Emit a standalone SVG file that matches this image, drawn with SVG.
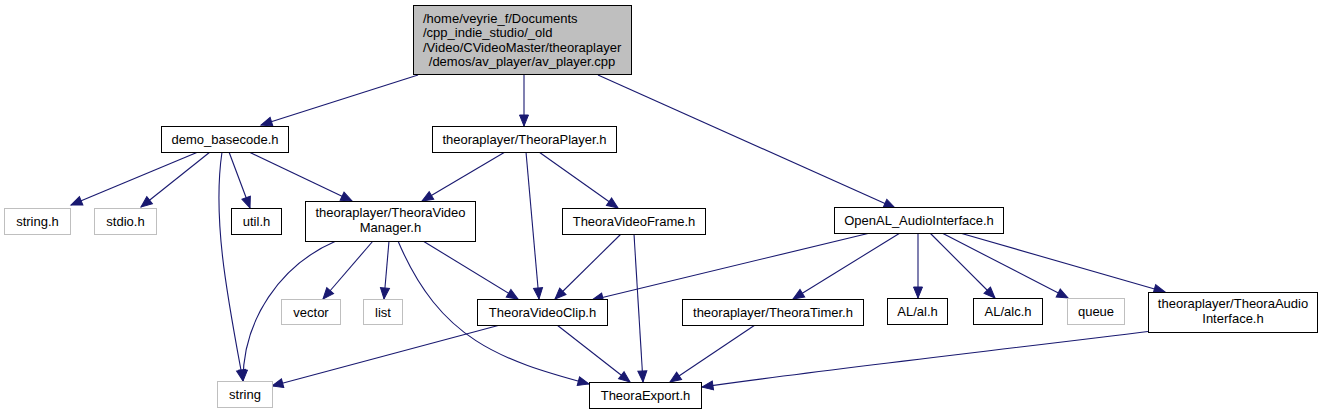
<svg xmlns="http://www.w3.org/2000/svg" width="1328" height="413" viewBox="0 0 1328 413">
<style>
.b{fill:#fff;stroke:#000;stroke-width:1}
.g{fill:#fff;stroke:#bfbfbf;stroke-width:1}
.r{fill:#bfbfbf;stroke:#000;stroke-width:1}
text{font-family:"Liberation Sans",Arial,sans-serif;font-size:13px;fill:#000}
.c{text-anchor:middle}
</style>
<defs>
<marker id="a" markerUnits="userSpaceOnUse" markerWidth="14" markerHeight="12" refX="11" refY="4.5" orient="auto" overflow="visible">
<path d="M0,0 L11,4.5 L0,9 z" fill="#191970" stroke="#191970" stroke-width="1"/>
</marker>
</defs>
<g id="edges" fill="none" stroke="#191970" stroke-width="1.1" marker-end="url(#a)">
<path d="M418,75 L261,125"/>
<path d="M524,75 L524,126"/>
<path d="M598,75 L895,208"/>
<path d="M198,152 L71,205"/>
<path d="M210,152 L141,207"/>
<path d="M222,152 C212,220 228,300 243,381"/>
<path d="M229,152 L250,208"/>
<path d="M249,152 L352,201"/>
<path d="M505,152 L422,201"/>
<path d="M526,152 L539,299"/>
<path d="M539,152 L618,208"/>
<path d="M336,241 C280,265 243,320 243,381"/>
<path d="M373,241 L323,299"/>
<path d="M389,241 L384,299"/>
<path d="M398,241 C440,340 500,360 589,384"/>
<path d="M423,241 L518,299"/>
<path d="M621,234 L555,299"/>
<path d="M634,234 L643,382"/>
<path d="M870,233 L592,300"/>
<path d="M900,233 L793,299"/>
<path d="M918,233 L918,298"/>
<path d="M930,233 L995,298"/>
<path d="M942,233 L1068,298"/>
<path d="M960,233 L1165,292"/>
<path d="M1152,331 C1000,350 820,370 702,387"/>
<path d="M500,325 L272,386"/>
<path d="M557,325 L630,382"/>
<path d="M755,325 L670,382"/>
</g>
<g id="n_av_player">
<rect class="r" x="413.5" y="5.5" width="218" height="69"/>
<text x="423" y="22.5">/home/veyrie_f/Documents</text>
<text x="423" y="37">/cpp_indie_studio/_old</text>
<text x="423" y="51.5">/Video/CVideoMaster/theoraplayer</text>
<text class="c" x="522" y="66">/demos/av_player/av_player.cpp</text>
</g>
<g id="n_demo_basecode">
<rect class="b" x="161.5" y="126.5" width="127" height="26"/>
<text class="c" x="225" y="144">demo_basecode.h</text>
</g>
<g id="n_TheoraPlayer">
<rect class="b" x="432.5" y="126.5" width="184" height="26"/>
<text class="c" x="524.5" y="144">theoraplayer/TheoraPlayer.h</text>
</g>
<g id="n_string_h">
<rect class="g" x="4.5" y="208.5" width="66" height="26"/>
<text class="c" x="37.5" y="226">string.h</text>
</g>
<g id="n_stdio_h">
<rect class="g" x="94.5" y="208.5" width="62" height="26"/>
<text class="c" x="125.5" y="226">stdio.h</text>
</g>
<g id="n_util_h">
<rect class="b" x="231.5" y="208.5" width="50" height="26"/>
<text class="c" x="256.5" y="226">util.h</text>
</g>
<g id="n_TheoraVideoManager">
<rect class="b" x="305.5" y="201.5" width="170" height="40"/>
<text class="c" x="390.5" y="217">theoraplayer/TheoraVideo</text>
<text class="c" x="390.5" y="232">Manager.h</text>
</g>
<g id="n_TheoraVideoFrame">
<rect class="b" x="562.5" y="208.5" width="143" height="26"/>
<text class="c" x="634" y="226">TheoraVideoFrame.h</text>
</g>
<g id="n_OpenAL_AudioInterface">
<rect class="b" x="834.5" y="207.5" width="169" height="26"/>
<text class="c" x="919" y="225">OpenAL_AudioInterface.h</text>
</g>
<g id="n_vector">
<rect class="g" x="281.5" y="299.5" width="59" height="25"/>
<text class="c" x="311" y="316.5">vector</text>
</g>
<g id="n_list">
<rect class="g" x="363.5" y="299.5" width="39" height="25"/>
<text class="c" x="383" y="316.5">list</text>
</g>
<g id="n_TheoraVideoClip">
<rect class="b" x="477.5" y="299.5" width="130" height="26"/>
<text class="c" x="542.5" y="317">TheoraVideoClip.h</text>
</g>
<g id="n_TheoraTimer">
<rect class="b" x="682.5" y="299.5" width="181" height="26"/>
<text class="c" x="773" y="317">theoraplayer/TheoraTimer.h</text>
</g>
<g id="n_al_h">
<rect class="b" x="887.5" y="298.5" width="60" height="26"/>
<text class="c" x="917.5" y="316">AL/al.h</text>
</g>
<g id="n_alc_h">
<rect class="b" x="973.5" y="298.5" width="69" height="26"/>
<text class="c" x="1008" y="316">AL/alc.h</text>
</g>
<g id="n_queue">
<rect class="g" x="1067.5" y="298.5" width="57" height="26"/>
<text class="c" x="1096" y="316">queue</text>
</g>
<g id="n_TheoraAudioInterface">
<rect class="b" x="1148.5" y="292.5" width="169" height="40"/>
<text class="c" x="1233" y="308">theoraplayer/TheoraAudio</text>
<text class="c" x="1233" y="323">Interface.h</text>
</g>
<g id="n_string">
<rect class="g" x="217.5" y="381.5" width="55" height="26"/>
<text class="c" x="245" y="399">string</text>
</g>
<g id="n_TheoraExport">
<rect class="b" x="589.5" y="382.5" width="112" height="26"/>
<text class="c" x="645.5" y="400">TheoraExport.h</text>
</g>
</svg>
